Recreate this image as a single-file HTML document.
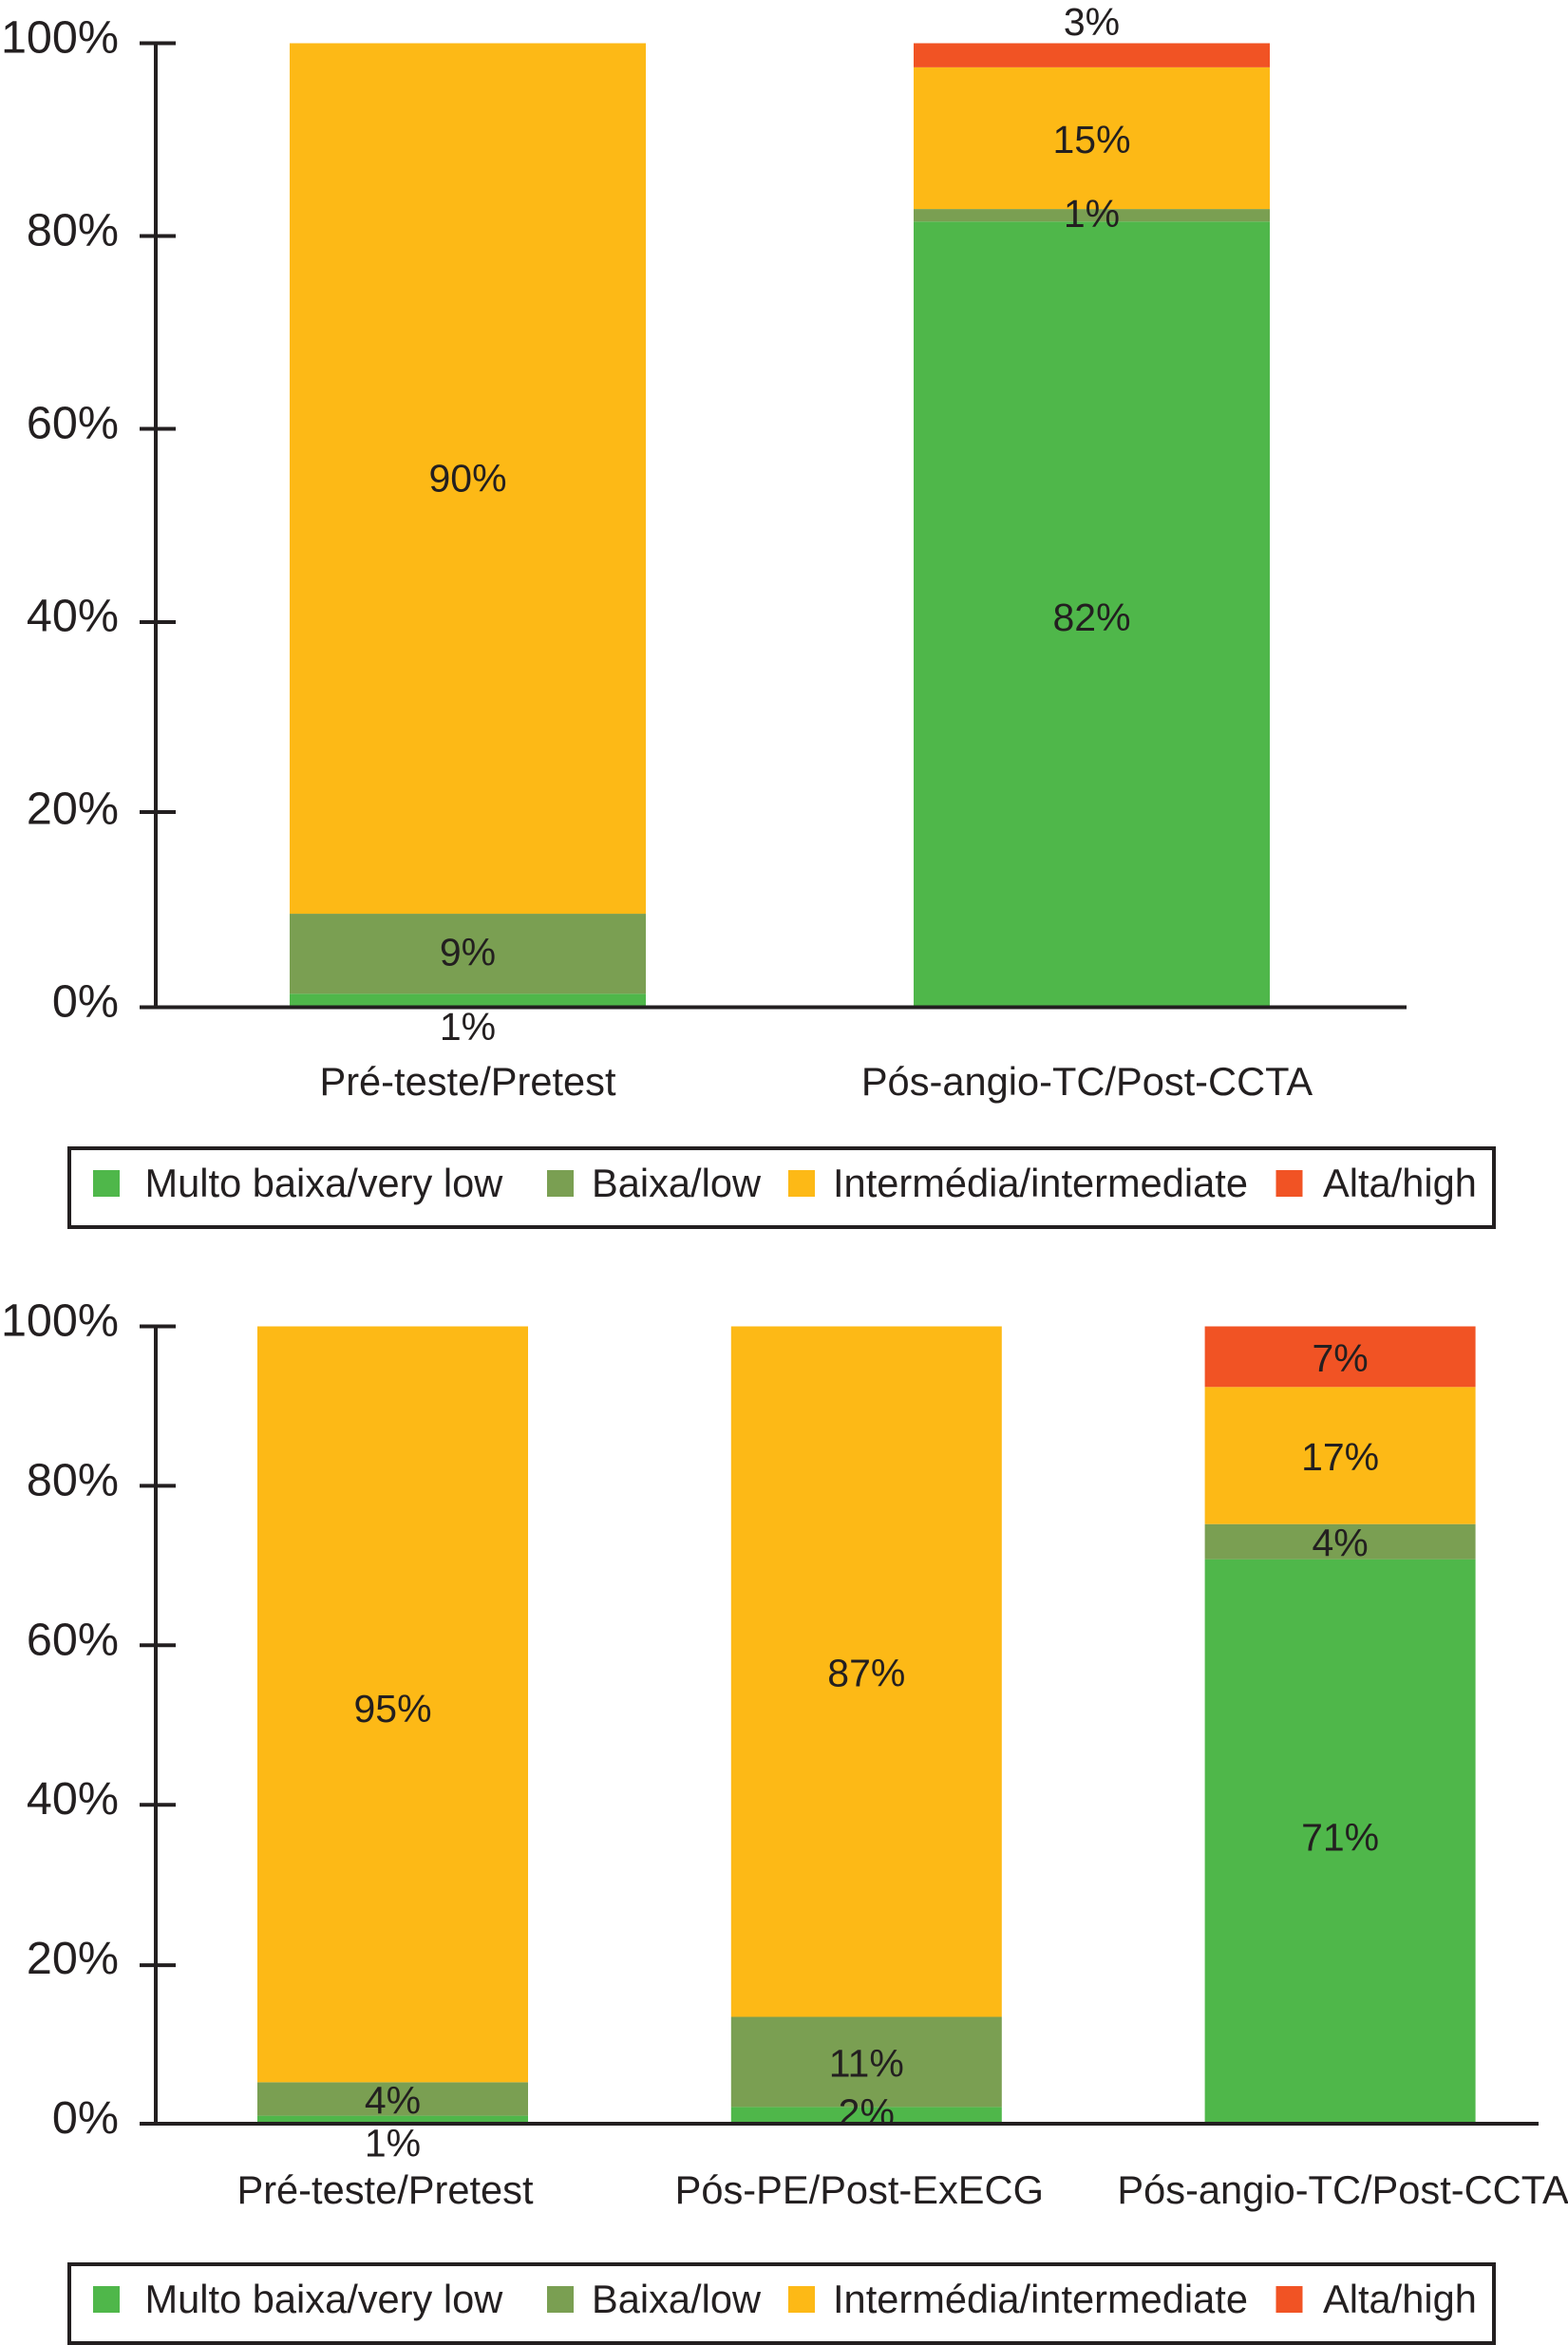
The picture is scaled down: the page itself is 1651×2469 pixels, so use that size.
<!DOCTYPE html>
<html lang="pt">
<head>
<meta charset="utf-8">
<title>Probabilidade pré-teste e pós-teste</title>
<style>
  html, body { margin: 0; padding: 0; background: #fff; }
  body { width: 1651px; height: 2469px; overflow: hidden; }
  svg { display: block; }
  text { font-family: "Liberation Sans", Arial, sans-serif; fill: #231f20; }
</style>
</head>
<body>
<svg id="figure" xmlns="http://www.w3.org/2000/svg" width="1651" height="2469" viewBox="0 0 1651 2469">
  <rect x="0" y="0" width="1651" height="2469" fill="#ffffff"/>
</svg>
<script>
// ---------- Shared data ----------
const tickValues = [0, 20, 40, 60, 80, 100];
const tickLabels = ['0%', '20%', '40%', '60%', '80%', '100%'];
const seriesNames = ['Multo baixa/very low', 'Baixa/low', 'Intermédia/intermediate', 'Alta/high'];
const seriesKeys = ['very-low', 'low', 'intermediate', 'high'];
const seriesColors = ['#4fb74a', '#7a9f52', '#fdb916', '#f15324'];

// ---------- Top chart data ----------
const topCategories = ['Pré-teste/Pretest', 'Pós-angio-TC/Post-CCTA'];
const topVeryLow = [1.4, 81.5];
const topLow = [8.3, 1.3];
const topIntermediate = [90.3, 14.7];
const topHigh = [0, 2.5];
const topPrintedVeryLow = ['1%', '82%'];
const topPrintedLow = ['9%', '1%'];
const topPrintedIntermediate = ['90%', '15%'];
const topPrintedHigh = ['', '3%'];

// ---------- Bottom chart data ----------
const bottomCategories = ['Pré-teste/Pretest', 'Pós-PE/Post-ExECG', 'Pós-angio-TC/Post-CCTA'];
const bottomVeryLow = [1, 2.1, 70.8];
const bottomLow = [4.2, 11.3, 4.4];
const bottomIntermediate = [94.8, 86.6, 17.2];
const bottomHigh = [0, 0, 7.6];
const bottomPrintedVeryLow = ['1%', '2%', '71%'];
const bottomPrintedLow = ['4%', '11%', '4%'];
const bottomPrintedIntermediate = ['95%', '87%', '17%'];
const bottomPrintedHigh = ['', '', '7%'];

const NS = 'http://www.w3.org/2000/svg';
const figure = document.getElementById('figure');
const INK = '#231f20';

function make(parent, tag, attrs, content) {
  const el = document.createElementNS(NS, tag);
  for (const k in attrs) el.setAttribute(k, attrs[k]);
  if (content !== undefined) el.textContent = content;
  parent.appendChild(el);
  return el;
}

function drawChart(cfg) {
  const group = make(figure, 'g', {});
  
  

  const y = v => cfg.y0 - (v / 100) * (cfg.y0 - cfg.y100);
  const x = i => cfg.barStart + i * cfg.barStep;

  const clipId = cfg.name + '-clip';
  const defs = make(group, 'defs', {});
  const clip = make(defs, 'clipPath', { id: clipId });
  make(clip, 'rect', { x: 0, y: 0, width: 1651, height: cfg.y0 });

  // Stacked bars and their printed values
  const labelLayer = [];
  cfg.categories.forEach((cat, i) => {
    let cum = 0;
    cfg.series.forEach((values, s) => {
      const v = values[i];
      if (!v) return;
      const yTop = y(cum + v);
      const yBot = y(cum);
      const rect = make(group, 'rect', {
        x: x(i), y: yTop, width: cfg.barWidth, height: yBot - yTop, fill: seriesColors[s]
      });
      
      

      const isBottom = cum === 0;
      const isTop = cum + v >= 99.9;
      const h = yBot - yTop;
      let centre = (yTop + yBot) / 2 + 1 + (cfg.labelNudge[i + '-' + s] || 0);
      let clipped = true;
      if (isBottom && h < 16) { centre = cfg.y0 + 20; clipped = false; }
      else if (isTop && h < 30) { centre = yTop - 23; clipped = false; }
      labelLayer.push({ i, s, text: cfg.printed[s][i], centre, clipped });
      cum += v;
    });
  });

  labelLayer.forEach(item => {
    const attrs = {
      x: x(item.i) + cfg.barWidth / 2, y: item.centre + 14.5,
      'font-size': 41, 'text-anchor': 'middle'
    };
    if (item.clipped) attrs['clip-path'] = 'url(#' + clipId + ')';
    const t = make(group, 'text', attrs, item.text);
    
    
  });

  // Y axis line
  const axis = make(group, 'line', { x1: 164, x2: 164, y1: y(100) - 2, y2: y(0), stroke: INK, 'stroke-width': 4 });
  
  

  // X axis line
  const base = make(group, 'line', { x1: 147, x2: cfg.axisEnd, y1: y(0), y2: y(0), stroke: INK, 'stroke-width': 4 });
  
  

  // Ticks and tick labels
  tickValues.forEach((v, k) => {
    if (v !== 0) {
      const tickY = y(v) + (cfg.tickNudge[v] || 0);
      const tick = make(group, 'line', { x1: 147, x2: 185, y1: tickY, y2: tickY, stroke: INK, 'stroke-width': 4 });
      
      
    }
    const label = make(group, 'text', {
      x: 125, y: y(v) + 10, 'font-size': 48.5, 'text-anchor': 'end'
    }, tickLabels[k]);
    
    
  });

  // Category labels
  cfg.categories.forEach((cat, i) => {
    const label = make(group, 'text', {
      x: x(i) + cfg.barWidth / 2 + cfg.categoryNudge[i],
      y: cfg.categoryBaseline, 'font-size': 41.6, 'text-anchor': 'middle'
    }, cat);
    
    
  });

  // Legend
  const legend = make(group, 'g', {});
  
  
  const box = make(legend, 'rect', {
    x: 73, y: cfg.legendTop, width: 1500, height: cfg.legendHeight,
    fill: 'none', stroke: INK, 'stroke-width': 4
  });
  
  
  const swatchLefts = [98, 576, 830, 1343.5];
  const textLefts = [152.5, 623, 877, 1393];
  seriesNames.forEach((name, s) => {
    const swatch = make(legend, 'rect', {
      x: swatchLefts[s], y: cfg.legendBaseline - 28, width: 28, height: 28, fill: seriesColors[s]
    });
    
    
    const label = make(legend, 'text', {
      x: textLefts[s], y: cfg.legendBaseline, 'font-size': 41.6
    }, name);
    
    
  });
}

drawChart({
  name: 'top-chart',
  categories: topCategories,
  series: [topVeryLow, topLow, topIntermediate, topHigh],
  printed: [topPrintedVeryLow, topPrintedLow, topPrintedIntermediate, topPrintedHigh],
  y0: 1060.5, y100: 45.5,
  barStart: 305, barStep: 657, barWidth: 375,
  axisEnd: 1481,
  tickNudge: { 20: -2.5, 40: 0.5 },
  labelNudge: { '0-1': -3, '0-2': -2, '1-1': -3, '1-0': 1.5 },
  categoryNudge: [0, -5],
  categoryBaseline: 1153,
  legendTop: 1209, legendHeight: 83, legendBaseline: 1260
});

drawChart({
  name: 'bottom-chart',
  categories: bottomCategories,
  series: [bottomVeryLow, bottomLow, bottomIntermediate, bottomHigh],
  printed: [bottomPrintedVeryLow, bottomPrintedLow, bottomPrintedIntermediate, bottomPrintedHigh],
  y0: 2236, y100: 1396.5,
  barStart: 271, barStep: 498.8, barWidth: 285,
  axisEnd: 1620,
  tickNudge: { 20: 1 },
  labelNudge: { '0-2': 3, '2-0': -6, '1-0': -4 },
  categoryNudge: [-8, -7.5, 3],
  categoryBaseline: 2320,
  legendTop: 2384, legendHeight: 83, legendBaseline: 2435
});
</script>
</body>
</html>
